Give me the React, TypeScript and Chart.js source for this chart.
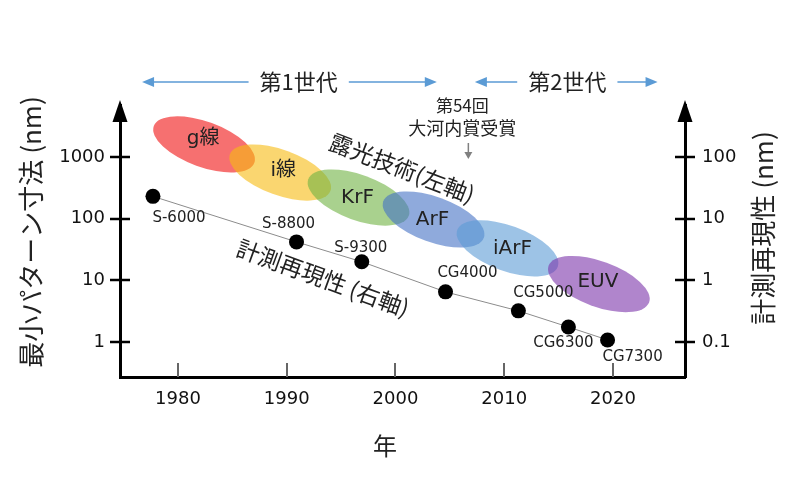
import React, { useEffect, useRef } from "react";
import { Chart, registerables } from "chart.js";

Chart.register(...registerables);

// ---- data ----
const modelNames = ["S-6000", "S-8800", "S-9300", "CG4000", "CG5000", "CG6300", "CG7300"];
const modelYears = [1977.7, 1990.9, 1996.9, 2004.6, 2011.3, 2015.9, 2019.5];
const modelRepeatability = [23, 4.2, 2.0, 0.65, 0.32, 0.175, 0.108];

const techNames = ["g線", "i線", "KrF", "ArF", "iArF", "EUV"];
const techYears = [1982.4, 1989.4, 1996.6, 2003.5, 2010.3, 2018.7];
const techMinSize = [1600, 560, 220, 97, 33, 8.7];

const xTickYears = [1980, 1990, 2000, 2010, 2020];
const leftTickValues = [1, 10, 100, 1000];
const rightTickValues = [0.1, 1, 10, 100];

const generationNames = ["第1世代", "第2世代"];
const generationStart = [1976.7, 2007.3];
const generationEnd = [2003.8, 2024.1];
const generationLabelYear = [1991.1, 2015.8];

const awardLines = ["第54回", "大河内賞受賞"];
const awardYear = 2006.7;

const xTitle = "年";
const leftTitle = "最小パターン寸法 (nm)";
const rightTitle = "計測再現性 (nm)";
const exposureNote = "露光技術(左軸)";
const metrologyNote = "計測再現性 (右軸)";

// ---- style ----
const LATIN = '"DejaVu Sans", "Noto Sans CJK JP", sans-serif';
const CJK = '"Noto Sans CJK JP", "DejaVu Sans", sans-serif';
const TEXT = "#222222";
const techColors = [
  "rgba(240,17,17,0.6)",
  "rgba(247,187,17,0.6)",
  "rgba(112,178,67,0.6)",
  "rgba(68,113,197,0.6)",
  "rgba(92,155,213,0.6)",
  "rgba(123,52,170,0.6)",
];
const techLabelOffset = [[-1, -6], [3, -2], [-1, 0], [-1, 0], [5, 0], [-1, -2]];
const ELLIPSE_RX = 53.5;
const ELLIPSE_RY = 22.7;
const ELLIPSE_ROT = (20 * Math.PI) / 180;
const modelLabelOffset = [[26, 22], [-8, -18], [-1, -14], [22, -19], [25, -18], [-5, 16], [25, 17]];

const X_MIN = 1974.67;
const X_MAX = 2026.62;
const Y_MIN = 0.2707;
const Y_MAX = 6970;

const overlayPlugin = {
  id: "overlay",
  beforeDatasetsDraw(chart: any) {
    const { ctx } = chart;
    const xs = chart.scales.x;
    const ys = chart.scales.y;
    ctx.save();
    techNames.forEach((_, i) => {
      const cx = xs.getPixelForValue(techYears[i]);
      const cy = ys.getPixelForValue(techMinSize[i]);
      ctx.beginPath();
      ctx.ellipse(cx, cy, ELLIPSE_RX, ELLIPSE_RY, ELLIPSE_ROT, 0, Math.PI * 2);
      ctx.fillStyle = techColors[i];
      ctx.fill();
    });
    ctx.fillStyle = TEXT;
    ctx.font = `20px ${LATIN}`;
    ctx.textAlign = "center";
    ctx.textBaseline = "middle";
    techNames.forEach((name, i) => {
      const cx = xs.getPixelForValue(techYears[i]) + techLabelOffset[i][0];
      const cy = ys.getPixelForValue(techMinSize[i]) + techLabelOffset[i][1];
      ctx.fillText(name, cx, cy);
    });
    ctx.restore();
  },
  afterDraw(chart: any) {
    const { ctx, chartArea } = chart;
    const xs = chart.scales.x;
    const ys = chart.scales.y;
    const ys2 = chart.scales.y2;
    const left = chartArea.left;
    const right = chartArea.right;
    const bottom = chartArea.bottom;
    ctx.save();

    // axis ticks
    ctx.strokeStyle = "#000";
    ctx.lineWidth = 2.5;
    leftTickValues.forEach((v) => {
      const p = Math.round(ys.getPixelForValue(v));
      ctx.beginPath();
      ctx.moveTo(left - 10, p);
      ctx.lineTo(left + 10, p);
      ctx.stroke();
    });
    rightTickValues.forEach((v) => {
      const p = Math.round(ys2.getPixelForValue(v));
      ctx.beginPath();
      ctx.moveTo(right - 10, p);
      ctx.lineTo(right + 10, p);
      ctx.stroke();
    });
    ctx.strokeStyle = "#666";
    ctx.lineWidth = 2;
    xTickYears.forEach((v) => {
      const p = Math.round(xs.getPixelForValue(v));
      ctx.beginPath();
      ctx.moveTo(p, bottom - 14);
      ctx.lineTo(p, bottom);
      ctx.stroke();
    });

    // axis arrowheads
    ctx.fillStyle = "#000";
    [left, right].forEach((ax) => {
      ctx.beginPath();
      ctx.moveTo(ax, 100);
      ctx.lineTo(ax - 7.5, 122);
      ctx.lineTo(ax + 7.5, 122);
      ctx.closePath();
      ctx.fill();
    });

    // axis titles
    ctx.fillStyle = TEXT;
    ctx.textAlign = "center";
    ctx.textBaseline = "middle";
    ctx.font = `26px ${CJK}`;
    ctx.save();
    ctx.translate(31, 232);
    ctx.rotate(-Math.PI / 2);
    ctx.fillText(leftTitle, 0, 0);
    ctx.restore();
    ctx.save();
    ctx.translate(763, 228);
    ctx.rotate(-Math.PI / 2);
    ctx.fillText(rightTitle, 0, 0);
    ctx.restore();
    ctx.font = `24px ${CJK}`;
    ctx.fillText(xTitle, 385, 446);

    // generation arrows
    const arrowY = 82;
    ctx.font = `22px ${CJK}`;
    generationNames.forEach((name, i) => {
      const x0 = xs.getPixelForValue(generationStart[i]);
      const x1 = xs.getPixelForValue(generationEnd[i]);
      const cx = xs.getPixelForValue(generationLabelYear[i]);
      const w = ctx.measureText(name).width;
      ctx.fillStyle = TEXT;
      ctx.fillText(name, cx, arrowY);
      ctx.strokeStyle = "#5B9BD5";
      ctx.fillStyle = "#5B9BD5";
      ctx.lineWidth = 1.5;
      ctx.beginPath();
      ctx.moveTo(x0 + 8, arrowY);
      ctx.lineTo(cx - w / 2 - 11, arrowY);
      ctx.moveTo(cx + w / 2 + 11, arrowY);
      ctx.lineTo(x1 - 8, arrowY);
      ctx.stroke();
      ctx.beginPath();
      ctx.moveTo(x0, arrowY);
      ctx.lineTo(x0 + 12, arrowY - 5);
      ctx.lineTo(x0 + 12, arrowY + 5);
      ctx.closePath();
      ctx.fill();
      ctx.beginPath();
      ctx.moveTo(x1, arrowY);
      ctx.lineTo(x1 - 12, arrowY - 5);
      ctx.lineTo(x1 - 12, arrowY + 5);
      ctx.closePath();
      ctx.fill();
    });

    // award note
    const ax = xs.getPixelForValue(awardYear);
    ctx.fillStyle = TEXT;
    ctx.font = `17px ${CJK}`;
    ctx.fillText(awardLines[0], ax - 6, 106);
    ctx.font = `18px ${CJK}`;
    ctx.fillText(awardLines[1], ax - 6, 128);
    ctx.strokeStyle = "#808080";
    ctx.fillStyle = "#808080";
    ctx.lineWidth = 1.5;
    ctx.beginPath();
    ctx.moveTo(ax, 143);
    ctx.lineTo(ax, 153);
    ctx.stroke();
    ctx.beginPath();
    ctx.moveTo(ax, 159);
    ctx.lineTo(ax - 4, 152);
    ctx.lineTo(ax + 4, 152);
    ctx.closePath();
    ctx.fill();

    // rotated notes
    ctx.fillStyle = TEXT;
    ctx.font = `23px ${CJK}`;
    ctx.save();
    ctx.translate(402, 168);
    ctx.rotate((21 * Math.PI) / 180);
    ctx.fillText(exposureNote, 0, 0);
    ctx.restore();
    ctx.save();
    ctx.translate(323, 278);
    ctx.rotate((20 * Math.PI) / 180);
    ctx.fillText(metrologyNote, 0, 0);
    ctx.restore();

    // model labels
    const meta = chart.getDatasetMeta(0);
    ctx.font = `15px ${LATIN}`;
    ctx.fillStyle = TEXT;
    modelNames.forEach((name, i) => {
      const el = meta.data[i];
      ctx.fillText(name, el.x + modelLabelOffset[i][0], el.y + modelLabelOffset[i][1]);
    });

    ctx.restore();
  },
};

export default function App() {
  const canvasRef = useRef<HTMLCanvasElement | null>(null);

  useEffect(() => {
    if (!canvasRef.current) return;
    const tickFont = { family: LATIN, size: 18 };
    const chart = new Chart(canvasRef.current, {
      type: "scatter",
      data: {
        datasets: [
          {
            data: modelYears.map((x, i) => ({ x, y: modelRepeatability[i] })),
            yAxisID: "y2",
            showLine: true,
            borderColor: "#8c8c8c",
            borderWidth: 1,
            pointRadius: 7.5,
            pointBackgroundColor: "#000",
            pointBorderWidth: 0,
          },
        ],
      },
      options: {
        responsive: false,
        animation: false,
        layout: { padding: { top: 105, left: 0, right: 0, bottom: 0 } },
        plugins: { legend: { display: false }, tooltip: { enabled: false } },
        scales: {
          x: {
            type: "linear",
            position: "bottom",
            min: X_MIN,
            max: X_MAX,
            bounds: "data",
            grid: { display: false, drawTicks: false },
            border: { display: true, width: 3, color: "#000" },
            ticks: {
              font: tickFont,
              color: "#111",
              padding: 12,
              autoSkip: false,
              maxRotation: 0,
              callback: (v: any) => String(v),
            },
            afterBuildTicks: (s: any) => {
              s.ticks = xTickYears.map((v) => ({ value: v }));
            },
            afterFit: (s: any) => {
              s.height = 123;
            },
          },
          y: {
            type: "logarithmic",
            position: "left",
            min: Y_MIN,
            max: Y_MAX,
            bounds: "data",
            grid: { display: false, drawTicks: false },
            border: { display: true, width: 3, color: "#000" },
            ticks: {
              font: tickFont,
              color: "#111",
              padding: 15,
              autoSkip: false,
              callback: (v: any) => String(v),
            },
            afterBuildTicks: (s: any) => {
              s.ticks = leftTickValues.map((v) => ({ value: v }));
            },
            afterFit: (s: any) => {
              s.width = 120;
            },
          },
          y2: {
            type: "logarithmic",
            position: "right",
            min: Y_MIN / 10,
            max: Y_MAX / 10,
            bounds: "data",
            grid: { display: false, drawTicks: false },
            border: { display: true, width: 3, color: "#000" },
            ticks: {
              font: tickFont,
              color: "#111",
              padding: 17,
              autoSkip: false,
              callback: (v: any) => String(v),
            },
            afterBuildTicks: (s: any) => {
              s.ticks = rightTickValues.map((v) => ({ value: v }));
            },
            afterFit: (s: any) => {
              s.width = 115;
            },
          },
        },
      } as any,
      plugins: [overlayPlugin],
    });
    return () => chart.destroy();
  }, []);

  return (
    <div style={{ position: "absolute", left: 0, top: 0, width: 800, height: 500, background: "#fff" }}>
      <canvas ref={canvasRef} width={800} height={500} style={{ display: "block" }} />
    </div>
  );
}
